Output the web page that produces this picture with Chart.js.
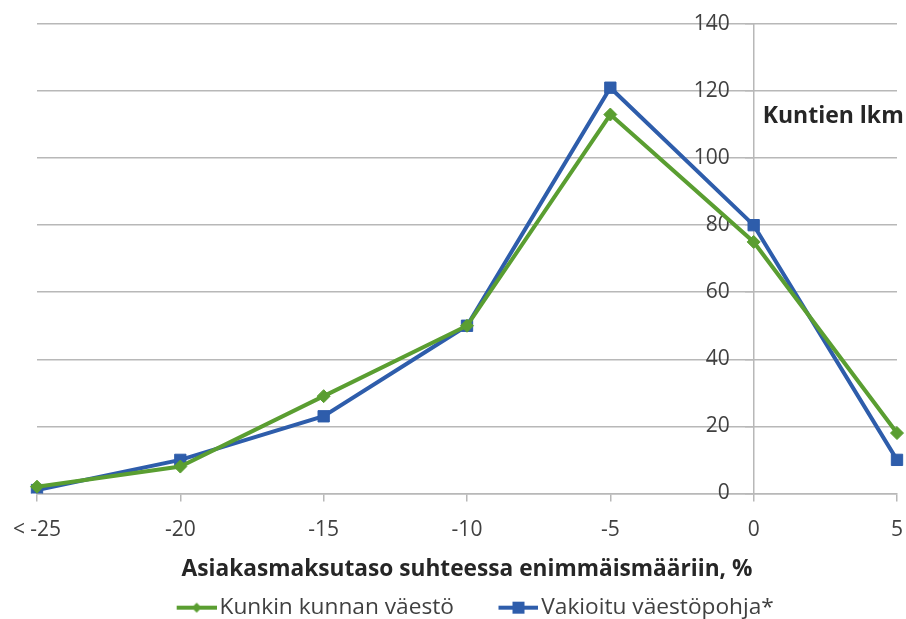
<!DOCTYPE html>
<html>
<head>
<meta charset="utf-8">
<script src="https://cdn.jsdelivr.net/npm/chart.js@4/dist/chart.umd.min.js"></script>
<style>
  body { margin: 0; background: #fff; }
  #wrap { width: 906px; height: 619px; }
</style>
</head>
<body>
<div id="wrap"><canvas id="canvas" width="906" height="619"></canvas></div>
<script>
// categories (x) and the two series
var categories = ['< -25', '-20', '-15', '-10', '-5', '0', '5'];
var kunkinKunnan = [2, 8, 29, 50, 113, 75, 18];
var vakioitu = [1, 10, 23, 50, 121, 80, 10];
var yTicks = [0, 20, 40, 60, 80, 100, 120, 140];

var seriesNames = ['Kunkin kunnan väestö', 'Vakioitu väestöpohja*'];
var yTitle = 'Kuntien lkm';
var xTitle = 'Asiakasmaksutaso suhteessa enimmäismääriin, %';

var GREEN = '#5A9E31';
var BLUE = '#2E5DAB';
var GRID = '#B8B8B8';
var TEXT = '#404040';
var FONT = '"Open Sans", "Noto Sans", sans-serif';

// line+marker picture for the legend; left part is empty so the items sit like in the original
function legendIcon(color, shape) {
  var c = document.createElement('canvas');
  c.width = 93; c.height = 14;
  var g = c.getContext('2d');
  g.strokeStyle = color; g.fillStyle = color; g.lineWidth = 4;
  g.beginPath(); g.moveTo(53, 7); g.lineTo(93, 7); g.stroke();
  g.beginPath();
  if (shape == 'rectRot') {
    g.moveTo(73, 2); g.lineTo(78, 7); g.lineTo(73, 12); g.lineTo(68, 7);
  } else {
    g.rect(67, 1, 12, 12);
  }
  g.fill();
  return c;
}

var axisTitlePlugin = {
  id: 'axisTitle',
  afterDraw: function(chart) {
    var ctx = chart.ctx;
    var xs = chart.scales.x, ys = chart.scales.y;
    ctx.save();
    ctx.font = 'bold 23px ' + FONT;
    ctx.fillStyle = '#262626';
    ctx.textAlign = 'left';
    ctx.textBaseline = 'middle';
    ctx.fillText(yTitle, xs.getPixelForValue(5) + 9, ys.getPixelForValue(112.5));
    ctx.restore();
  }
};

var ctx = document.getElementById('canvas').getContext('2d');
window.myLine = new Chart(ctx, {
  type: 'line',
  data: {
    labels: categories,
    datasets: [{
      label: seriesNames[0],
      data: kunkinKunnan,
      borderColor: GREEN,
      backgroundColor: GREEN,
      borderWidth: 4,
      pointStyle: 'rectRot',
      pointRadius: 6.5,
      pointHoverRadius: 6.5,
      pointBorderWidth: 1,
      tension: 0
    }, {
      label: seriesNames[1],
      data: vakioitu,
      borderColor: BLUE,
      backgroundColor: BLUE,
      borderWidth: 4,
      pointStyle: 'rect',
      pointRadius: 8,
      pointHoverRadius: 8,
      pointBorderWidth: 1,
      tension: 0
    }]
  },
  options: {
    responsive: false,
    animation: false,
    layout: { padding: { top: 24, right: 0, left: 0, bottom: -10 } },
    scales: {
      x: {
        type: 'category',
        offset: false,
        afterFit: function(scale) {
          // first and last category sit near the edges, as in the original
          scale.paddingLeft = 37;
          scale.paddingRight = 3;
        },
        grid: { drawOnChartArea: false, drawTicks: true, tickLength: 8, color: GRID, lineWidth: 1.5 },
        border: { color: GRID, width: 1.5 },
        ticks: { color: TEXT, font: { family: FONT, size: 21 }, padding: 16, maxRotation: 0, autoSkip: false },
        title: { display: true, text: xTitle, color: '#262626', font: { family: FONT, size: 22.7, weight: 'bold', lineHeight: 1 }, padding: { top: 0, bottom: 15 } }
      },
      y: {
        position: { x: 5 },
        min: 0,
        max: 140,
        afterBuildTicks: function(scale) {
          scale.ticks = yTicks.map(function(v) { return { value: v }; });
        },
        grid: { color: GRID, lineWidth: 1.5, tickLength: 8 },
        border: { color: GRID, width: 1.5 },
        ticks: {
          color: TEXT,
          font: { family: FONT, size: 21 },
          callback: function(v) { return v + '    \u200A'; }
        }
      }
    },
    plugins: {
      legend: {
        position: 'bottom',
        labels: {
          color: TEXT,
          font: { family: FONT, size: 22.7 },
          usePointStyle: true,
          pointStyleWidth: 76,
          padding: 0,
          generateLabels: function(chart) {
            return chart.data.datasets.map(function(ds, i) {
              return {
                text: ds.label,
                fillStyle: ds.borderColor,
                strokeStyle: ds.borderColor,
                lineWidth: 0,
                pointStyle: legendIcon(ds.borderColor, ds.pointStyle),
                datasetIndex: i,
                fontColor: TEXT
              };
            });
          }
        }
      },
      tooltip: { enabled: false }
    }
  },
  plugins: [axisTitlePlugin]
});
</script>
</body>
</html>
